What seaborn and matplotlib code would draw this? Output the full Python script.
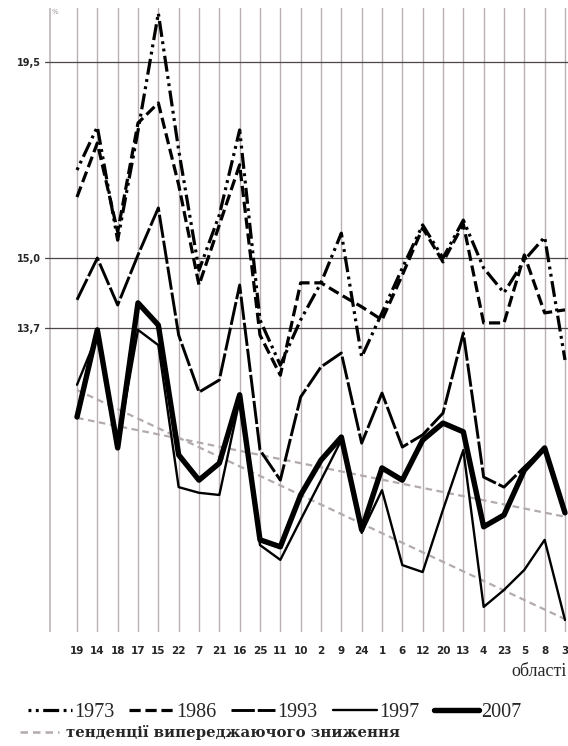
import numpy as np
import pandas as pd
import matplotlib
matplotlib.use("Agg")
import matplotlib.pyplot as plt
from matplotlib.lines import Line2D
import seaborn as sns

# oblast numbers along the x axis, in the order they are printed
regions = ["19", "14", "18", "17", "15", "22", "7", "21", "16", "25", "11", "10",
           "2", "9", "24", "1", "6", "12", "20", "13", "4", "23", "5", "8", "3"]

# values, one list per year
v1973 = [17.02, 18.01, 15.41, 17.92, 20.62, 17.48, 14.72, 15.99, 17.94, 13.58, 12.54, 13.58,
         14.43, 15.57, 12.73, 13.74, 14.77, 15.76, 15.00, 15.87, 14.77, 14.20, 14.95, 15.48, 12.66]
v1986 = [16.40, 17.64, 15.60, 18.10, 18.56, 16.68, 14.38, 15.76, 17.14, 13.23, 12.31, 14.43,
         14.43, 14.15, 13.88, 13.58, 14.61, 15.69, 14.91, 15.78, 13.51, 13.51, 15.07, 13.74, 13.81]
v1993 = [14.04, 15.00, 13.92, 15.07, 16.15, 13.23, 11.92, 12.20, 14.38, 10.59, 9.90, 11.81,
         12.50, 12.82, 10.75, 11.90, 10.66, 10.94, 11.44, 13.28, 9.97, 9.74, 10.20, 10.64, 9.15]
v1997 = [12.09, 13.23, 10.71, 13.35, 13.00, 9.74, 9.61, 9.56, 11.74, 8.41, 8.07, 8.99,
         9.90, 10.82, 8.69, 9.67, 7.95, 7.79, 9.22, 10.59, 6.99, 7.38, 7.84, 8.53, 6.69]
v2007 = [11.35, 13.35, 10.64, 13.97, 13.46, 10.48, 9.90, 10.29, 11.86, 8.53, 8.37, 9.56,
         10.36, 10.89, 8.76, 10.18, 9.90, 10.82, 11.21, 11.01, 8.83, 9.10, 10.13, 10.64, 9.15]

# "outpacing decline" tendencies: value at first and last region
trend_a = [11.33, 9.06]
trend_b = [11.97, 6.71]

ytick_vals = [19.5, 15.0, 13.4]
ytick_labels = ["19,5", "15,0", "13,7"]

years = ["1973", "1986", "1993", "1997", "2007"]
series = [v1973, v1986, v1993, v1997, v2007]

df = pd.DataFrame({
    "pos": np.tile(np.arange(len(regions)), len(years)),
    "year": np.repeat(years, len(regions)),
    "value": np.concatenate(series),
})

styles = {
    "1973": dict(lw=2.3, ls=(0, (0.9, 1.4, 0.9, 1.4, 5, 1.4))),
    "1986": dict(lw=2.3, ls=(0, (3.5, 1.5))),
    "1993": dict(lw=2.1, ls=(0, (8, 1.0))),
    "1997": dict(lw=1.7, ls="-"),
    "2007": dict(lw=3.9, ls="-"),
}

sns.set_style("white")
plt.rcParams["font.family"] = ["DejaVu Sans"]

fig = plt.figure(figsize=(5.68, 7.46), dpi=100)
ax = fig.add_axes([45 / 568, 114 / 746, 523 / 568, 624 / 746])

# grid: a gray line through every oblast, dark lines at the marked levels
for xi in range(len(regions)):
    ax.axvline(xi, color="#b9b1b1", lw=1.0, zorder=0)
ax.axvline(-1.33, color="#c2bbbb", lw=1.3, zorder=0)
for yv in ytick_vals:
    ax.axhline(yv, color="#4e4646", lw=0.9, zorder=1)

gray = "#b3abab"
for tr in (trend_a, trend_b):
    sns.lineplot(x=[0, len(regions) - 1], y=tr, ax=ax, color=gray, lw=1.6,
                 linestyle=(0, (3, 2)), zorder=2)

for year in years:
    sub = df[df["year"] == year]
    st = styles[year]
    sns.lineplot(data=sub, x="pos", y="value", ax=ax, color="black", lw=st["lw"],
                 linestyle=st["ls"], sort=False, zorder=3)

ax.set_xlim(-1.574, 24.148)
ax.set_ylim(6.414, 20.74)
ax.set_xticks(range(len(regions)))
ax.set_xticklabels(regions, fontsize=7.5, fontweight="bold")
ax.set_yticks(ytick_vals)
ax.set_yticklabels(ytick_labels, fontsize=7, fontweight="bold")
ax.tick_params(axis="x", length=0, pad=10)
ax.tick_params(axis="y", length=0, pad=3)
ax.set_xlabel("")
ax.set_ylabel("")
for sp in ax.spines.values():
    sp.set_visible(False)

fig.text(0.998, (746 - 672) / 746, "області", ha="right", va="center",
         family="Liberation Serif", fontsize=13)
fig.text(55 / 568, 1 - 12 / 746, "%", ha="center", va="center", color="#a09898", fontsize=5)

handles = [Line2D([], [], color="black", lw=styles[y]["lw"], linestyle=styles[y]["ls"])
           for y in years]
fig.legend(handles, years, loc="center", bbox_to_anchor=(0.483, (746 - 712) / 746),
           ncol=5, frameon=False, prop=dict(family="Liberation Serif", size=14.5),
           handlelength=2.2, handletextpad=0.1, columnspacing=0.75,
           borderpad=0, borderaxespad=0)
fig.legend([Line2D([], [], color=gray, lw=1.8, linestyle=(0, (3, 2)))],
           ["тенденції випереджаючого зниження"], loc="center left",
           bbox_to_anchor=(0.035, (746 - 733) / 746), frameon=False,
           prop=dict(family="DejaVu Serif", size=10.7, weight="bold"),
           handlelength=2.6, handletextpad=0.5, borderpad=0, borderaxespad=0)

fig.savefig("out.png", dpi=100)
